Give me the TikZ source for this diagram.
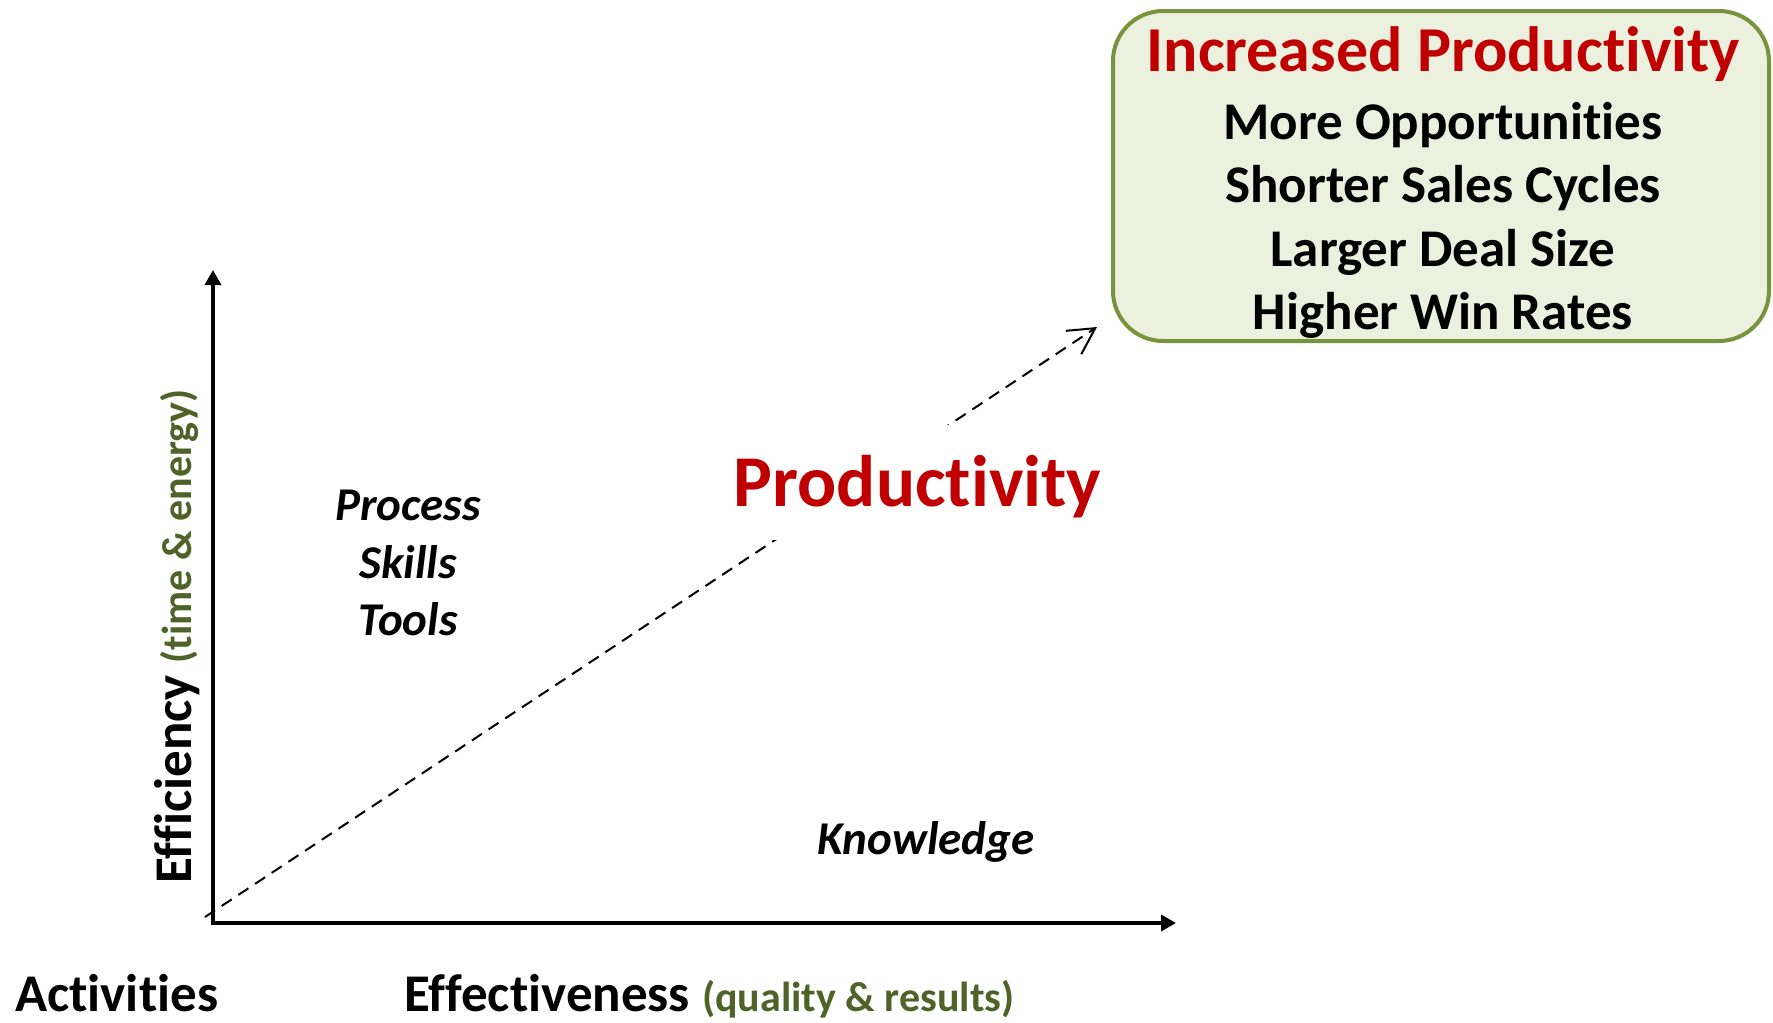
\documentclass[tikz,border=0pt]{standalone}
\usepackage{fontspec}
\setmainfont{Carlito}[Ligatures={NoCommon},RawFeature={-liga;-clig;-calt;-dlig}]
\usetikzlibrary{arrows.meta}
\definecolor{prodred}{HTML}{C00000}
\definecolor{notegreen}{HTML}{4F6228}
\definecolor{boxline}{HTML}{77933C}
\definecolor{boxfill}{HTML}{EBF1DE}
\newcommand{\fsz}[1]{\fontsize{#1}{#1}\selectfont}

\begin{document}
\begin{tikzpicture}[x=1pt,y=-1pt,inner sep=0pt,
	axis/.style={line width=3.5pt,line join=miter,{Triangle[length=15pt,width=16pt]}-{Triangle[length=15pt,width=16pt]}},
	trend/.style={line width=2pt,dash pattern=on 12pt off 8pt,-{Straight Barb[length=26pt,width=28pt]}},
	note/.style={font=\bfseries\fsz{42},text=notegreen}]
	\useasboundingbox (0,0) rectangle (1773,1023);
	\begin{scope}[every node/.style={font=\bfseries\fsz{53},anchor=base}]
		% axes and trend line
		\coordinate (ytip)   at (213,270);
		\coordinate (origin) at (213,923);
		\coordinate (xtip)   at (1176,923);
		\coordinate (trend0) at (205,917);
		\coordinate (trend1) at (1097,327);
		\draw[axis]  (ytip) -- (origin) -- (xtip);
		\draw[trend] (trend0) -- (trend1);
		\path (917.5,506) node (prod) [text=prodred,fill=white,font=\bfseries\fsz{73},text height=47pt,text depth=0pt,inner xsep=10pt,inner ysep=34pt] {Productivity};

		% axis labels
		\path (15,1011)  node (act) [anchor=base west] {Activities};
		\path (404,1011) node (eff) [anchor=base west] {Effectiveness \tikz[baseline]\node[note,anchor=base]{(quality \& results)};};
		\path (191,884)  node (effy) [anchor=base west,rotate=90] {Efficiency \tikz[baseline]\node[note,anchor=base]{(time \& energy)};};

		% levers
		\tikzstyle{every node}=[font=\bfseries\itshape\fsz{47},anchor=base];
		\path (408,520) node (proc)  {Process};
		\path (408,578) node (skill) {Skills};
		\path (408,635) node (tool)  {Tools};
		\path (926,854) node (know)  {Knowledge};

		% outcome box
		\path (1441,176) node (outcome) [draw=boxline,fill=boxfill,line width=4pt,rounded corners=50pt,minimum width=656pt,minimum height=330pt,anchor=center] {};
		\tikzstyle{every node}=[font=\bfseries\fsz{53},anchor=base];
		\path (1443,71)  node (gain0) [text=prodred,font=\bfseries\fsz{64}] {Increased Productivity};
		\path (1443,139) node (gain1) {More Opportunities};
		\path (1443,202) node (gain2) {Shorter Sales Cycles};
		\path (1443,266) node (gain3) {Larger Deal Size};
		\path (1443,329) node (gain4) {Higher Win Rates};
	\end{scope}
\end{tikzpicture}
\end{document}
